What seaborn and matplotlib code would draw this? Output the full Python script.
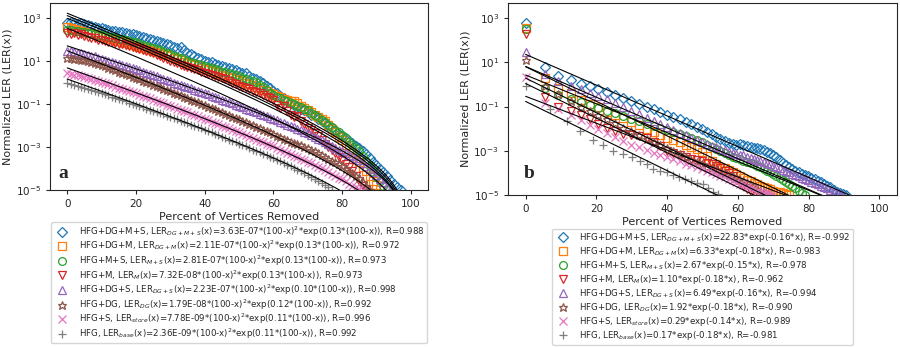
import numpy as np
import pandas as pd
import matplotlib
matplotlib.use("Agg")
import matplotlib.pyplot as plt
import seaborn as sns

# ---- series info ----
names = ["HFG+DG+M+S", "HFG+DG+M", "HFG+M+S", "HFG+M", "HFG+DG+S", "HFG+DG", "HFG+S", "HFG"]
subs = ["DG+M+S", "DG+M", "M+S", "M", "DG+S", "DG", "store", "base"]
colors = sns.color_palette("tab10", 8)
markers = ["D", "s", "o", "v", "^", "*", "x", "+"]
msizes = [4.8, 5.2, 5.6, 5.8, 5.8, 6.4, 5.2, 6.4]

# ---- panel a: fit parameters LER(x) = A*(100-x)^2*exp(k*(100-x)) ----
a_A = [3.63e-07, 2.11e-07, 2.81e-07, 7.32e-08, 2.23e-07, 1.79e-08, 7.78e-09, 2.36e-09]
a_k = [0.13, 0.13, 0.13, 0.13, 0.10, 0.12, 0.11, 0.11]
a_R = [0.988, 0.972, 0.973, 0.973, 0.998, 0.992, 0.996, 0.992]

# panel a data, log10(LER) at x = 0, 1, 2, ...
a_dgms = [2.77, 2.78, 2.74, 2.72, 2.73, 2.69, 2.65, 2.63, 2.58, 2.54, 2.50,
          2.47, 2.45, 2.40, 2.38, 2.35, 2.33, 2.29, 2.26, 2.24, 2.20,
          2.14, 2.10, 2.05, 2.00, 1.95, 1.92, 1.86, 1.82, 1.76, 1.72,
          1.65, 1.58, 1.62, 1.50, 1.38, 1.30, 1.22, 1.15, 1.07, 1.00,
          0.96, 0.92, 0.86, 0.80, 0.76, 0.72, 0.66, 0.60, 0.55, 0.50,
          0.45, 0.42, 0.30, 0.22, 0.15, 0.05, -0.02, -0.15, -0.28, -0.40,
          -0.52, -0.65, -0.75, -0.85, -0.95, -1.05, -1.12, -1.22, -1.30, -1.40,
          -1.50, -1.58, -1.70, -1.80, -1.90, -2.02, -2.12, -2.25, -2.38, -2.50,
          -2.60, -2.72, -2.82, -2.95, -3.05, -3.20, -3.35, -3.52, -3.68, -3.85,
          -4.02, -4.18, -4.35, -4.52, -4.70, -4.85, -5.00]
a_dgm = [2.55, 2.52, 2.48, 2.44, 2.40, 2.35, 2.31, 2.27, 2.22, 2.17, 2.12,
         2.08, 2.04, 2.00, 1.96, 1.92, 1.88, 1.83, 1.79, 1.74, 1.70,
         1.65, 1.60, 1.55, 1.50, 1.45, 1.40, 1.35, 1.30, 1.25, 1.20,
         1.14, 1.08, 1.02, 0.96, 0.91, 0.85, 0.79, 0.74, 0.68, 0.62,
         0.57, 0.52, 0.47, 0.42, 0.36, 0.31, 0.26, 0.21, 0.15, 0.10,
         0.04, -0.02, -0.08, -0.14, -0.20, -0.27, -0.34, -0.41, -0.48, -0.55,
         -0.62, -0.69, -0.76, -0.83, -0.85, -0.88, -0.98, -1.10, -1.20, -1.30,
         -1.40, -1.50, -1.60, -1.70, -1.80, -1.98, -2.15, -2.33, -2.52, -2.70,
         -2.90, -3.10, -3.30, -3.50, -3.70, -3.92, -4.14, -4.35, -4.57, -4.78, -5.00]
a_ms = [2.45, 2.43, 2.40, 2.38, 2.35, 2.33, 2.30, 2.27, 2.24, 2.21, 2.18,
        2.15, 2.12, 2.09, 2.05, 2.02, 1.99, 1.96, 1.92, 1.89, 1.85,
        1.80, 1.75, 1.70, 1.65, 1.60, 1.54, 1.48, 1.42, 1.36, 1.30,
        1.24, 1.18, 1.12, 1.06, 1.00, 0.95, 0.90, 0.85, 0.80, 0.75,
        0.70, 0.65, 0.60, 0.55, 0.50, 0.46, 0.41, 0.37, 0.32, 0.28,
        0.22, 0.17, 0.11, 0.06, 0.00, -0.12, -0.24, -0.36, -0.48, -0.60,
        -0.66, -0.72, -0.80, -0.88, -0.95, -1.02, -1.09, -1.16, -1.23, -1.30,
        -1.41, -1.52, -1.63, -1.74, -1.85, -1.97, -2.09, -2.21, -2.33, -2.45,
        -2.60, -2.75, -2.90, -3.05, -3.20, -3.43, -3.67, -3.90, -4.15, -4.40,
        -4.60, -4.80, -5.00]
a_m = [2.30, 2.25, 2.27, 2.20, 2.22, 2.15, 2.12, 2.06, 2.04, 1.98, 1.95,
       1.93, 1.88, 1.87, 1.82, 1.80, 1.76, 1.71, 1.69, 1.63, 1.60,
       1.55, 1.50, 1.45, 1.40, 1.35, 1.28, 1.21, 1.14, 1.07, 1.00,
       0.94, 0.88, 0.82, 0.76, 0.70, 0.65, 0.60, 0.55, 0.50, 0.45,
       0.40, 0.35, 0.30, 0.25, 0.20, 0.13, 0.06, -0.01, -0.08, -0.15,
       -0.21, -0.27, -0.33, -0.39, -0.45, -0.52, -0.59, -0.66, -0.73, -0.80,
       -1.05, -1.20, -1.10, -1.35, -1.50, -1.60, -1.55, -1.80, -1.95, -2.10,
       -2.23, -2.37, -2.50, -2.68, -2.85, -3.00, -3.15, -3.30, -3.45, -3.60,
       -3.77, -3.93, -4.10, -4.35, -4.60, -4.80, -5.00]
a_dgs = [1.45, 1.43, 1.40, 1.38, 1.36, 1.33, 1.29, 1.24, 1.20, 1.15, 1.10,
         1.05, 1.00, 0.95, 0.90, 0.85, 0.80, 0.75, 0.70, 0.65, 0.60,
         0.55, 0.49, 0.44, 0.38, 0.33, 0.27, 0.22, 0.16, 0.11, 0.05,
         -0.01, -0.06, -0.12, -0.17, -0.23, -0.28, -0.34, -0.39, -0.45, -0.50,
         -0.56, -0.62, -0.68, -0.74, -0.80, -0.86, -0.92, -0.98, -1.04, -1.10,
         -1.16, -1.22, -1.28, -1.34, -1.40, -1.46, -1.52, -1.58, -1.64, -1.70,
         -1.77, -1.83, -1.90, -1.96, -2.03, -2.09, -2.16, -2.22, -2.29, -2.35,
         -2.44, -2.52, -2.61, -2.69, -2.78, -2.86, -2.95, -3.03, -3.12, -3.20,
         -3.28, -3.36, -3.44, -3.52, -3.60, -3.74, -3.88, -4.02, -4.16, -4.30,
         -4.47, -4.65, -4.82, -5.00]
a_dg = [1.15, 1.13, 1.10, 1.08, 1.05, 1.02, 0.98, 0.93, 0.89, 0.84, 0.80,
        0.74, 0.68, 0.62, 0.56, 0.50, 0.44, 0.38, 0.32, 0.26, 0.20,
        0.14, 0.08, 0.01, -0.05, -0.11, -0.17, -0.23, -0.30, -0.36, -0.42,
        -0.48, -0.55, -0.61, -0.68, -0.74, -0.80, -0.87, -0.93, -1.00, -1.06,
        -1.13, -1.19, -1.26, -1.32, -1.39, -1.46, -1.52, -1.59, -1.65, -1.72,
        -1.79, -1.86, -1.92, -1.99, -2.06, -2.13, -2.20, -2.26, -2.33, -2.40,
        -2.47, -2.54, -2.61, -2.68, -2.75, -2.81, -2.87, -2.93, -2.99, -3.05,
        -3.13, -3.21, -3.29, -3.37, -3.45, -3.54, -3.63, -3.72, -3.81, -3.90,
        -4.01, -4.12, -4.23, -4.34, -4.45, -4.63, -4.81, -5.00]
a_s = [0.42, 0.39, 0.36, 0.32, 0.29, 0.25, 0.20, 0.16, 0.11, 0.07, 0.02,
       -0.03, -0.09, -0.14, -0.20, -0.25, -0.30, -0.36, -0.41, -0.47, -0.52,
       -0.58, -0.64, -0.69, -0.75, -0.81, -0.87, -0.93, -0.98, -1.04, -1.10,
       -1.16, -1.22, -1.28, -1.34, -1.40, -1.46, -1.52, -1.58, -1.64, -1.70,
       -1.76, -1.83, -1.89, -1.95, -2.02, -2.08, -2.14, -2.20, -2.27, -2.33,
       -2.40, -2.46, -2.53, -2.59, -2.66, -2.72, -2.79, -2.85, -2.92, -2.98,
       -3.05, -3.12, -3.19, -3.26, -3.33, -3.40, -3.47, -3.54, -3.61, -3.68,
       -3.76, -3.84, -3.92, -4.00, -4.08, -4.16, -4.25, -4.33, -4.42, -4.50,
       -4.60, -4.70, -4.80, -4.87, -4.94, -5.00]
a_base = [-0.04, -0.08, -0.12, -0.17, -0.21, -0.25, -0.30, -0.35, -0.40, -0.45, -0.50,
          -0.56, -0.61, -0.67, -0.72, -0.78, -0.83, -0.89, -0.94, -1.00, -1.05,
          -1.11, -1.16, -1.22, -1.27, -1.33, -1.38, -1.44, -1.49, -1.55, -1.60,
          -1.66, -1.72, -1.78, -1.84, -1.90, -1.96, -2.02, -2.08, -2.14, -2.20,
          -2.27, -2.33, -2.40, -2.46, -2.53, -2.59, -2.66, -2.72, -2.79, -2.85,
          -2.92, -2.98, -3.05, -3.12, -3.19, -3.25, -3.32, -3.39, -3.45, -3.52,
          -3.60, -3.67, -3.75, -3.82, -3.90, -3.98, -4.06, -4.14, -4.22, -4.30,
          -4.39, -4.48, -4.57, -4.66, -4.75, -4.87, -5.00]
a_data = [a_dgms, a_dgm, a_ms, a_m, a_dgs, a_dg, a_s, a_base]

# ---- panel b: fit parameters LER(x) = A*exp(k*x) ----
b_A = [22.83, 6.33, 2.67, 1.10, 6.49, 1.92, 0.29, 0.17]
b_k = [-0.16, -0.18, -0.15, -0.18, -0.16, -0.18, -0.14, -0.18]
b_R = [-0.992, -0.983, -0.978, -0.962, -0.994, -0.990, -0.989, -0.981]

# percent removed at each step (panel b)
b_x = [0, 5.4, 9.1, 12.8, 15.7, 18.2, 20.6, 23.0, 25.3, 27.6, 29.9, 32.1, 34.2, 36.2,
       38.1, 40.0, 41.8, 43.6, 45.3, 46.9, 48.4, 49.9, 51.3, 52.6, 53.9, 55.1, 56.3,
       57.4, 58.5, 59.6, 60.6, 61.6, 62.6, 63.6, 64.6, 65.5, 66.4, 67.3, 68.2, 69.1,
       70.0, 70.9, 71.8, 72.7, 73.6, 74.5, 75.4, 76.3, 77.2, 78.1, 79.0, 79.9, 80.8,
       81.7, 82.6, 83.5, 84.4, 85.3, 86.2, 87.1, 88.0, 88.9, 89.8, 90.7]
b_x_base = [0, 6.8, 11.6, 15.3, 19.1, 21.9, 24.8, 27.6, 30.0, 32.4, 34.3, 36.1, 38.0,
            39.9, 41.7, 43.5, 45.2, 46.9, 48.5, 50.1, 51.6, 53.0, 54.4]

# panel b data, log10(LER)
b_dgms = [2.77, 0.79, 0.38, 0.18, 0.03, -0.09, -0.20, -0.35, -0.47, -0.60, -0.73, -0.87,
          -1.00, -1.13, -1.26, -1.36, -1.45, -1.57, -1.68, -1.80, -1.92, -2.03, -2.15,
          -2.26, -2.37, -2.48, -2.57, -2.63, -2.68, -2.72, -2.70, -2.74, -2.78, -2.82,
          -2.86, -2.88, -2.93, -2.98, -3.04, -3.10, -3.18, -3.30, -3.42, -3.55, -3.65,
          -3.74, -3.82, -3.90, -3.98, -4.05, -4.10, -4.15, -4.22, -4.28, -4.35, -4.42,
          -4.50, -4.58, -4.66, -4.78, -4.85, -4.90, -4.96, -5.00]
b_dgm = [2.55, 0.27, -0.15, -0.40, -0.72, -0.88, -1.03, -1.25, -1.40, -1.52, -1.68, -1.85,
         -2.00, -2.15, -2.30, -2.42, -2.52, -2.62, -2.72, -2.82, -2.92, -3.05, -3.25,
         -3.45, -3.62, -3.72, -3.80, -3.88, -3.95, -4.05, -4.15, -4.22, -4.30, -4.38,
         -4.45, -4.52, -4.58, -4.65, -4.70, -4.75, -4.80, -4.85, -4.88, -4.92, -4.97, -5.00]
b_ms = [2.50, -0.18, -0.48, -0.65, -0.78, -0.92, -1.05, -1.18, -1.30, -1.42, -1.55, -1.67,
        -1.78, -1.88, -1.98, -2.08, -2.15, -2.22, -2.32, -2.42, -2.52, -2.62, -2.72,
        -2.82, -2.92, -3.02, -3.10, -3.18, -3.26, -3.32, -3.38, -3.44, -3.50, -3.56,
        -3.62, -3.68, -3.74, -3.82, -3.90, -3.98, -4.06, -4.14, -4.22, -4.30, -4.40,
        -4.50, -4.60, -4.70, -4.80, -4.90, -5.00]
b_m = [2.30, -0.55, -1.00, -1.20, -1.40, -1.55, -1.80, -1.95, -2.10, -2.22, -2.30, -2.35,
       -2.42, -2.60, -2.80, -3.00, -3.10, -3.20, -3.30, -3.38, -3.42, -3.48, -3.55,
       -3.62, -3.70, -3.80, -3.90, -4.02, -4.15, -4.30, -4.45, -4.60, -4.72, -4.85, -4.95]
b_dgs = [1.45, 0.45, 0.15, -0.05, -0.22, -0.38, -0.52, -0.68, -0.85, -1.02, -1.18, -1.35,
         -1.50, -1.65, -1.80, -1.92, -2.05, -2.18, -2.30, -2.42, -2.52, -2.62, -2.70,
         -2.78, -2.85, -2.92, -2.98, -3.04, -3.08, -3.13, -3.17, -3.21, -3.26, -3.31,
         -3.36, -3.41, -3.46, -3.52, -3.57, -3.62, -3.68, -3.74, -3.80, -3.86, -3.92,
         -3.98, -4.04, -4.10, -4.16, -4.22, -4.28, -4.34, -4.40, -4.46, -4.52, -4.58,
         -4.64, -4.70, -4.76, -4.82, -4.88, -4.94, -5.00]
b_dg = [1.10, -0.05, -0.45, -0.75, -1.00, -1.20, -1.38, -1.55, -1.75, -1.95, -2.12, -2.28,
        -2.45, -2.60, -2.75, -2.88, -3.00, -3.15, -3.28, -3.40, -3.52, -3.62, -3.72,
        -3.80, -3.88, -3.95, -4.02, -4.08, -4.15, -4.22, -4.30, -4.38, -4.46, -4.55,
        -4.64, -4.72, -4.80, -4.88, -4.95, -5.00]
b_s = [0.35, -0.85, -1.10, -1.38, -1.62, -1.85, -2.02, -2.20, -2.38, -2.55, -2.72, -2.85,
       -2.97, -3.08, -3.18, -3.28, -3.38, -3.48, -3.58, -3.66, -3.74, -3.82, -3.90,
       -3.98, -4.05, -4.12, -4.20, -4.27, -4.34, -4.41, -4.48, -4.55, -4.62, -4.69,
       -4.75, -4.80, -4.85, -4.89, -4.93, -4.96, -5.00]
b_base = [-0.05, -1.10, -1.67, -2.12, -2.52, -2.73, -3.03, -3.15, -3.30, -3.45, -3.60,
          -3.83, -3.92, -3.98, -4.10, -4.20, -4.29, -4.38, -4.45, -4.52, -4.70, -4.85, -4.97]
b_data = [b_dgms, b_dgm, b_ms, b_m, b_dgs, b_dg, b_s, b_base]

a_labels = [f"{n}, LER$_{{{s}}}$(x)={A:.2E}*(100-x)$^2$*exp({k:.2f}*(100-x)), R={R:.3f}"
            for n, s, A, k, R in zip(names, subs, a_A, a_k, a_R)]
b_labels = [f"{n}, LER$_{{{s}}}$(x)={A:.2f}*exp({k:.2f}*x), R={R:.3f}"
            for n, s, A, k, R in zip(names, subs, b_A, b_k, b_R)]

sns.set_style("ticks")
plt.rcParams["font.family"] = ["DejaVu Sans"]

fig = plt.figure(figsize=(9, 3.47), dpi=100)
ax_a = fig.add_axes([0.0556, 0.4524, 0.42, 0.539])
ax_b = fig.add_axes([0.5644, 0.438, 0.4322, 0.5533])


def draw_points(ax, x, logy, i, label):
    df = pd.DataFrame({"x": x, "y": 10 ** np.array(logy)})
    c = colors[i]
    sns.lineplot(data=df, x="x", y="y", ax=ax, color=c, marker=markers[i],
                 linestyle="", markersize=msizes[i], markerfacecolor="none",
                 markeredgecolor=c, markeredgewidth=0.9, label=label,
                 errorbar=None, sort=False)


# panel a
xa_fit = np.linspace(0, 99.95, 500)
for i in range(8):
    xs = np.arange(len(a_data[i]))
    draw_points(ax_a, xs, a_data[i], i, a_labels[i])
for i in range(8):
    ya = a_A[i] * (100 - xa_fit) ** 2 * np.exp(a_k[i] * (100 - xa_fit))
    ax_a.plot(xa_fit, ya, color="black", lw=0.8, zorder=5)

# panel b
xb_fit = np.linspace(0, 100, 300)
for i in range(8):
    xs = b_x_base if i == 7 else b_x[:len(b_data[i])]
    draw_points(ax_b, xs, b_data[i], i, b_labels[i])
for i in range(8):
    yb = b_A[i] * np.exp(b_k[i] * xb_fit)
    ax_b.plot(xb_fit, yb, color="black", lw=0.8, zorder=5)

panels = [(ax_a, "a", (0.034, 0.088), -0.17, 0.02),
          (ax_b, "b", (0.054, 0.11), -0.175, 0.12)]
for ax, tag, pos, leg_y, lsp in panels:
    ax.set_yscale("log")
    ax.set_ylim(1e-5, 4.8e3)
    ax.set_xlim(-5, 105)
    ax.set_xticks([0, 20, 40, 60, 80, 100])
    ax.set_yticks([1e-5, 1e-3, 1e-1, 1e1, 1e3])
    ax.yaxis.set_minor_locator(matplotlib.ticker.NullLocator())
    ax.tick_params(labelsize=7.5, length=3)
    ax.set_xlabel("Percent of Vertices Removed", fontsize=8, labelpad=2)
    ax.set_ylabel("Normalized LER (LER(x))", fontsize=8, labelpad=2)
    ax.text(pos[0], pos[1], tag, transform=ax.transAxes, fontsize=14,
            fontweight="bold", family="Liberation Serif", ha="center", va="center")
    ax.legend(loc="upper center", bbox_to_anchor=(0.5, leg_y), fontsize=6.2,
              frameon=True, handletextpad=0.9, labelspacing=lsp,
              borderaxespad=0, borderpad=0.3, markerscale=1.0)

fig.savefig("out.png", dpi=100)
